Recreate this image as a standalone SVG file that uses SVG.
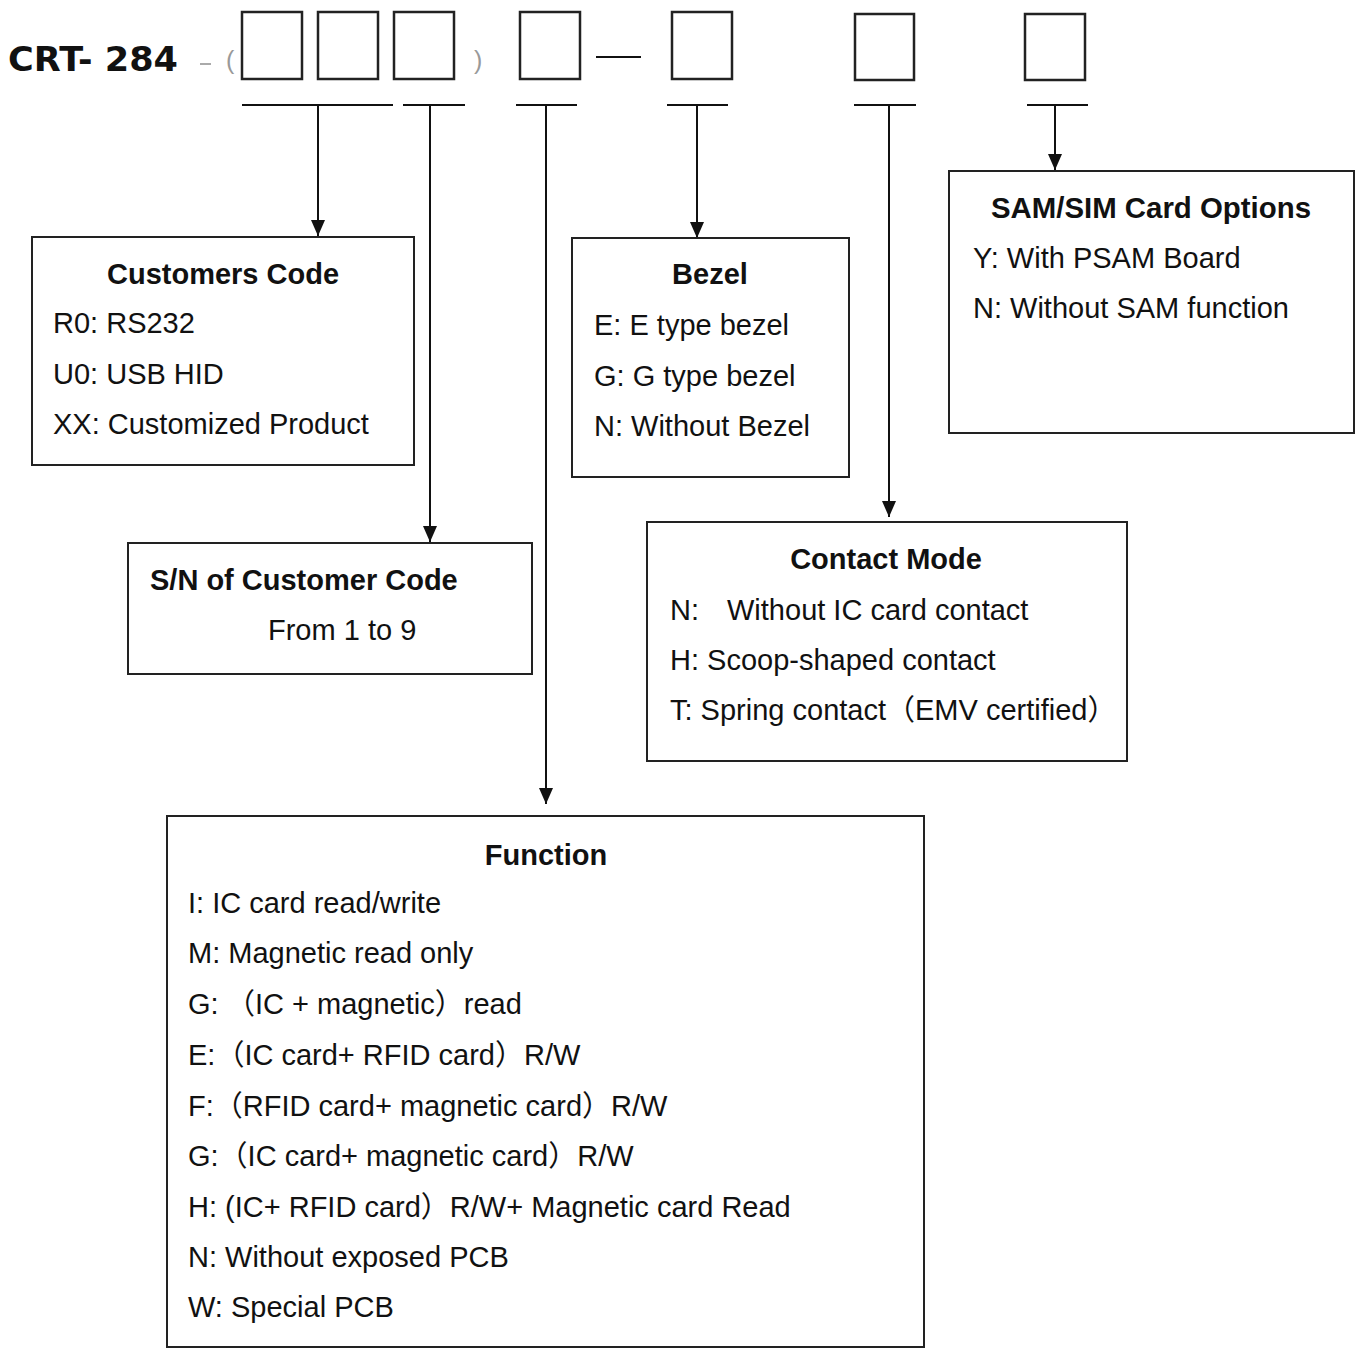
<svg xmlns="http://www.w3.org/2000/svg" width="1361" height="1349" viewBox="0 0 1361 1349">
<style>
.box{fill:#fff;stroke:#222;stroke-width:2}
.slot{fill:none;stroke:#222;stroke-width:2.5}
.ln{stroke:#111;stroke-width:2;fill:none}
.t{font-family:"Liberation Sans","Noto Sans CJK SC",Arial,sans-serif;font-size:29px;fill:#111}
.h{font-family:"Liberation Sans","Noto Sans CJK SC",Arial,sans-serif;font-size:29px;font-weight:bold;fill:#111;text-anchor:middle}
.g{font-family:"Liberation Sans",Arial,sans-serif;font-size:25px;fill:#999}
</style>
<defs>
<marker id="ar" markerWidth="16" markerHeight="14" refX="16" refY="7" orient="auto" markerUnits="userSpaceOnUse" viewBox="0 0 16 14">
<path d="M0,0 L16,7 L0,14 Z" fill="#111"/>
</marker>
</defs>
<rect width="1361" height="1349" fill="#fff"/>

<g id="code-header">
<text x="8" y="71" font-family="DejaVu Sans, sans-serif" font-weight="bold" font-size="34" fill="#111" textLength="170" lengthAdjust="spacingAndGlyphs">CRT- 284</text>
<line x1="200" y1="64" x2="211" y2="64" stroke="#aaa" stroke-width="2"/>
<text class="g" x="226" y="69">(</text>
<rect class="slot" x="242" y="12" width="60" height="67"/>
<rect class="slot" x="318" y="12" width="60" height="67"/>
<rect class="slot" x="394" y="12" width="60" height="67"/>
<text class="g" x="474" y="69">)</text>
<rect class="slot" x="520" y="12" width="60" height="67"/>
<line class="ln" x1="596" y1="57" x2="641" y2="57" stroke-width="2.5"/>
<rect class="slot" x="672" y="12" width="60" height="67"/>
<rect class="slot" x="855" y="14" width="59" height="66"/>
<rect class="slot" x="1025" y="14" width="60" height="66"/>
</g>

<g id="connectors">
<line class="ln" x1="242" y1="105" x2="393" y2="105"/>
<line class="ln" x1="403" y1="105" x2="465" y2="105"/>
<line class="ln" x1="516" y1="105" x2="577" y2="105"/>
<line class="ln" x1="667" y1="105" x2="728" y2="105"/>
<line class="ln" x1="854" y1="105" x2="916" y2="105"/>
<line class="ln" x1="1027" y1="105" x2="1088" y2="105"/>
<line class="ln" x1="318" y1="105" x2="318" y2="236" marker-end="url(#ar)"/>
<line class="ln" x1="430" y1="105" x2="430" y2="542" marker-end="url(#ar)"/>
<line class="ln" x1="546" y1="105" x2="546" y2="804" marker-end="url(#ar)"/>
<line class="ln" x1="697" y1="105" x2="697" y2="238" marker-end="url(#ar)"/>
<line class="ln" x1="889" y1="105" x2="889" y2="517" marker-end="url(#ar)"/>
<line class="ln" x1="1055" y1="105" x2="1055" y2="170" marker-end="url(#ar)"/>
</g>

<g id="customers-code">
<rect class="box" x="32" y="237" width="382" height="228"/>
<text class="h" x="223" y="284">Customers Code</text>
<text class="t" x="53" y="333">R0: RS232</text>
<text class="t" x="53" y="384">U0: USB HID</text>
<text class="t" x="53" y="434">XX: Customized Product</text>
</g>

<g id="sn-customer-code">
<rect class="box" x="128" y="543" width="404" height="131"/>
<text class="h" x="150" y="590" style="text-anchor:start">S/N of Customer Code</text>
<text class="t" x="268" y="640">From 1 to 9</text>
</g>

<g id="bezel">
<rect class="box" x="572" y="238" width="277" height="239"/>
<text class="h" x="710" y="284">Bezel</text>
<text class="t" x="594" y="335">E: E type bezel</text>
<text class="t" x="594" y="386">G: G type bezel</text>
<text class="t" x="594" y="436">N: Without Bezel</text>
</g>

<g id="sam-sim">
<rect class="box" x="949" y="171" width="405" height="262"/>
<text class="h" x="1151" y="218" textLength="320" lengthAdjust="spacingAndGlyphs">SAM/SIM Card Options</text>
<text class="t" x="973" y="268">Y: With PSAM Board</text>
<text class="t" x="973" y="318">N: Without SAM function</text>
</g>

<g id="contact-mode">
<rect class="box" x="647" y="522" width="480" height="239"/>
<text class="h" x="886" y="569">Contact Mode</text>
<text class="t" x="670" y="620">N:<tspan x="727">Without IC card contact</tspan></text>
<text class="t" x="670" y="670">H: Scoop-shaped contact</text>
<text class="t" x="670" y="720">T: Spring contact（EMV certified）</text>
</g>

<g id="function">
<rect class="box" x="167" y="816" width="757" height="531"/>
<text class="h" x="546" y="865">Function</text>
<text class="t" x="188" y="913">I: IC card read/write</text>
<text class="t" x="188" y="963">M: Magnetic read only</text>
<text class="t" x="188" y="1014">G:<tspan x="226">（IC + magnetic）read</tspan></text>
<text class="t" x="188" y="1065">E:（IC card+ RFID card）R/W</text>
<text class="t" x="188" y="1116">F:（RFID card+ magnetic card）R/W</text>
<text class="t" x="188" y="1166">G:（IC card+ magnetic card）R/W</text>
<text class="t" x="188" y="1217">H: (IC+ RFID card）R/W+ Magnetic card Read</text>
<text class="t" x="188" y="1267">N: Without exposed PCB</text>
<text class="t" x="188" y="1317">W: Special PCB</text>
</g>
</svg>
